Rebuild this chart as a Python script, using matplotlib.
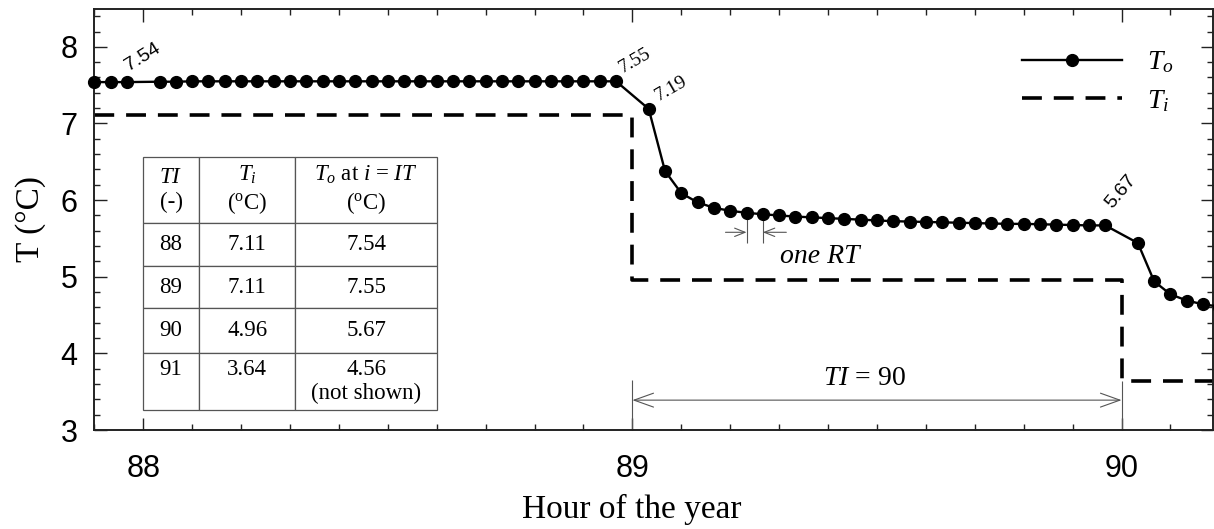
import matplotlib
matplotlib.use("Agg")
import matplotlib.pyplot as plt
from matplotlib.ticker import MultipleLocator

# values from the inset table
interval_ids = [88, 89, 90, 91]
inlet_temps = [7.11, 7.11, 4.96, 3.64]
outlet_temps = [7.54, 7.55, 5.67, 4.56]

# outlet temperature at the residence-time steps i = 1..29 of each hour
steps_per_hour = 30
hour87_tail = [7.54, 7.54, 7.54]  # i = 27, 28, 29
hour88 = [7.545, 7.545, 7.55, 7.55, 7.55, 7.55, 7.55, 7.55, 7.55, 7.55,
          7.55, 7.55, 7.55, 7.55, 7.55, 7.55, 7.55, 7.55, 7.55, 7.55,
          7.55, 7.55, 7.55, 7.55, 7.55, 7.55, 7.55, 7.55, 7.55]
hour89 = [7.19, 6.38, 6.09, 5.97, 5.90, 5.86, 5.835, 5.815, 5.80, 5.785,
          5.775, 5.765, 5.755, 5.745, 5.735, 5.725, 5.72, 5.715, 5.71, 5.705,
          5.70, 5.695, 5.69, 5.69, 5.685, 5.68, 5.675, 5.67, 5.67]
hour90 = [5.44, 4.94, 4.77, 4.69, 4.64, 4.61]


def step_times(hour, first, count):
    return [hour + (first + k) / steps_per_hour for k in range(count)]


outlet_x = (step_times(87, 27, len(hour87_tail)) + step_times(88, 1, len(hour88))
            + step_times(89, 1, len(hour89)) + step_times(90, 1, len(hour90)))
outlet_y = hour87_tail + hour88 + hour89 + hour90

# inlet temperature: TI = n holds over hour n-1 .. n
inlet_x = [n - 1 for n in interval_ids] + [interval_ids[-1]]
inlet_y = inlet_temps + [inlet_temps[-1]]

plt.rcParams["font.family"] = ["Liberation Sans", "DejaVu Sans"]
plt.rcParams["mathtext.fontset"] = "custom"
plt.rcParams["mathtext.rm"] = "Liberation Serif"
plt.rcParams["mathtext.it"] = "Liberation Serif:italic"
plt.rcParams["mathtext.bf"] = "Liberation Serif:bold"

SERIF = ["Liberation Serif", "DejaVu Serif"]
GREY = "#555555"

fig = plt.figure(figsize=(12.14, 5.29), dpi=100)
ax = fig.add_axes([0.0777, 0.1871, 0.9215, 0.7968])

ax.plot(inlet_x, inlet_y, drawstyle="steps-post", color="black", lw=2.6,
        dashes=(5.5, 3.3), label="$T_i$", zorder=2)
ax.plot(outlet_x, outlet_y, "-o", color="black", lw=1.7, ms=8.5,
        clip_on=False, label="$T_o$", zorder=3)

ax.set_xlim(87.9, 90.187)
ax.set_ylim(3, 8.5)
ax.xaxis.set_major_locator(MultipleLocator(1))
ax.xaxis.set_minor_locator(MultipleLocator(0.1))
ax.yaxis.set_major_locator(MultipleLocator(1))
ax.yaxis.set_minor_locator(MultipleLocator(0.2))
ax.tick_params(which="both", direction="in", top=True, right=True, width=1,
               colors="#222222", labelcolor="black")
ax.tick_params(which="major", length=9, labelsize=22)
ax.tick_params(which="minor", length=4.5)
ax.tick_params(axis="x", pad=17)
ax.tick_params(axis="y", pad=12)
for spine in ax.spines.values():
    spine.set_linewidth(1.4)
    spine.set_color("#222222")

ax.set_xlabel("Hour of the year", family=SERIF, fontsize=24)
ax.set_ylabel("T (°C)", family=SERIF, fontsize=24)
ax.xaxis.set_label_coords(0.48, -0.152)
ax.yaxis.set_label_coords(-0.043, 0.5)

# value labels at the last step of each interval
label_kw = dict(textcoords="offset points", rotation_mode="anchor",
                ha="left", va="bottom", fontsize=14)
ax.annotate(f"{outlet_temps[0]:.2f}", (interval_ids[0] - 1 / steps_per_hour, outlet_temps[0]),
            xytext=(3, 5.5), rotation=32, family="Liberation Sans", **label_kw)
ax.annotate(f"{outlet_temps[1]:.2f}", (interval_ids[1] - 1 / steps_per_hour, outlet_temps[1]),
            xytext=(6, 3.5), rotation=30, family=SERIF, **label_kw)
ax.annotate(f"{hour89[0]:.2f}", (89 + 1 / steps_per_hour, hour89[0]),
            xytext=(8.5, 3), rotation=30, family=SERIF, **label_kw)
ax.annotate(f"{outlet_temps[2]:.2f}", (interval_ids[2] - 1 / steps_per_hour, outlet_temps[2]),
            xytext=(7, 10), rotation=50, family="Liberation Sans", **label_kw)

# one residence time marker between steps 7 and 8 of hour 89
rt_left = 89 + 7 / steps_per_hour
rt_right = 89 + 8 / steps_per_hour
ax.vlines([rt_left, rt_right], 5.44, [hour89[6], hour89[7]], color=GREY, lw=0.8)
small_head = dict(arrowstyle="->,head_length=0.75,head_width=0.3", lw=0.8,
                  color=GREY, shrinkA=0, shrinkB=0, mutation_scale=10)
ax.annotate("", xy=(rt_left, 5.58), xytext=(rt_left - 0.043, 5.58), arrowprops=small_head)
ax.annotate("", xy=(rt_right, 5.58), xytext=(rt_right + 0.048, 5.58), arrowprops=small_head)
ax.text(89.384, 5.18, "one RT", family=SERIF, style="italic", fontsize=20,
        ha="center", va="baseline")

# TI = 90 span
ax.vlines([89, 90], 3.0, [3.656, inlet_temps[3]], color=GREY, lw=0.8)
ax.annotate("", xy=(89, 3.39), xytext=(90, 3.39),
            arrowprops=dict(arrowstyle="<->,head_length=1.4,head_width=0.5", lw=0.8,
                            color=GREY, shrinkA=0, shrinkB=0, mutation_scale=10))
ax.text(89.475, 3.59, "$TI$ = 90", family=SERIF, fontsize=20, ha="center", va="baseline")

ax.legend(loc="center left", bbox_to_anchor=(1021.7 / 1214, 1 - 81.7 / 529),
          bbox_transform=fig.transFigure, frameon=False, borderpad=0, borderaxespad=0,
          handlelength=3.6, handletextpad=0.9, labelspacing=0.45, numpoints=1,
          prop={"size": 20}, handles=ax.get_lines()[::-1])

# inset table
cell_text = [[str(n), f"{a:.2f}", f"{b:.2f}"]
             for n, a, b in zip(interval_ids, inlet_temps, outlet_temps)]
cell_text[-1] = [f"{interval_ids[-1]}\n ", f"{inlet_temps[-1]:.2f}\n ",
                 f"{outlet_temps[-1]:.2f}\n(not shown)"]
header = ["$TI$\n(-)", "$T_i$\n($^{\\rm o}$C)", "$T_o$ at $i$ = $IT$\n($^{\\rm o}$C)"]
table = ax.table(cellText=cell_text, colLabels=header, cellLoc="center",
                 colWidths=[0.0506, 0.0858, 0.1267],
                 bbox=[0.0433, 0.0475, 0.2631, 0.5995])
table.auto_set_font_size(False)
row_heights = [0.1559, 0.102, 0.0996, 0.1068, 0.1352]
for (row, col), cell in table.get_celld().items():
    cell.set_height(row_heights[row])
    cell.set_edgecolor(GREY)
    cell.set_linewidth(0.9)
    cell.get_text().set_fontfamily(SERIF)
    cell.get_text().set_fontsize(16.5)
    cell.get_text().set_linespacing(1.2)

fig.savefig("out.png", dpi=100)
